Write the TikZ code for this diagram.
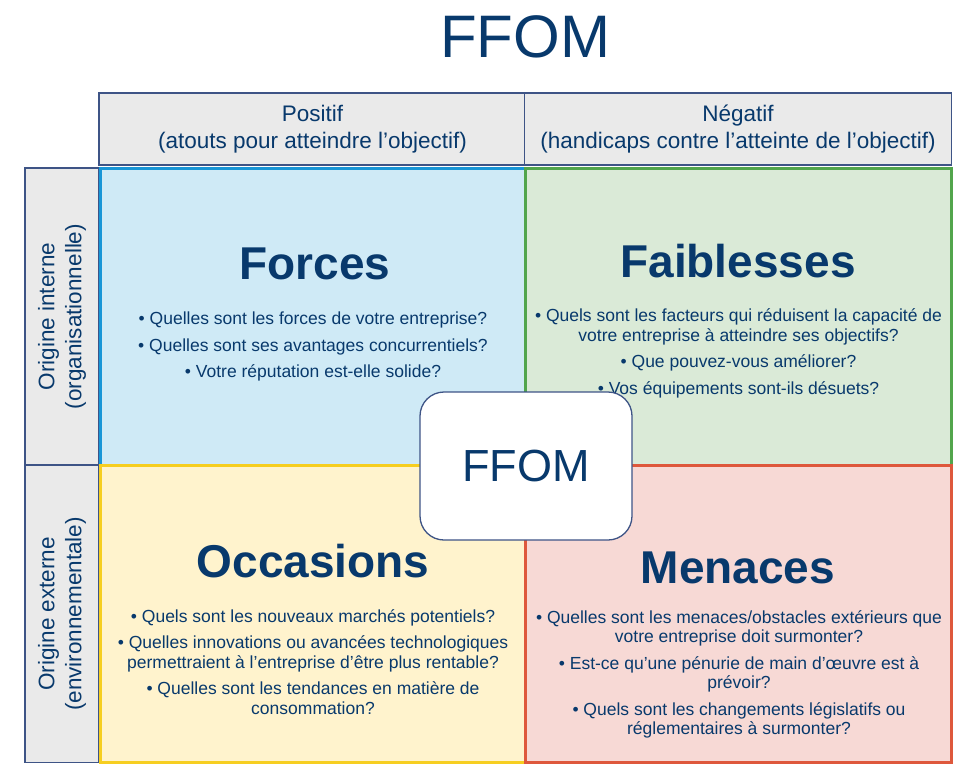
\documentclass[tikz,border=0pt]{standalone}
\usepackage{fontspec}
\setmainfont{Liberation Sans}
\usetikzlibrary{positioning}

\begin{document}
\begin{tikzpicture}[x=1pt,y=-1pt,
  headcell/.style={draw=frameblue,fill=headgray,line width=1.2pt,
    minimum width=427pt,minimum height=72pt,inner sep=0pt,align=center,
    text=navy,font=\fontsize{22.5}{27}\selectfont},
  sidecell/.style={headcell,minimum width=297pt,minimum height=74pt,rotate=90},
  quad/.style={line width=3pt,minimum width=426pt,minimum height=297pt,inner sep=0pt},
  heading/.style={anchor=base,text=navy,font=\fontsize{46}{50}\bfseries\selectfont},
  bullets/.style={anchor=north,inner sep=0pt,align=center,text=navy,
    font=\fontsize{17.5}{19.5}\selectfont}]
\definecolor{navy}{RGB}{8,57,108}
\definecolor{frameblue}{RGB}{62,84,134}
\definecolor{headgray}{RGB}{234,234,234}
\definecolor{forcesfill}{RGB}{207,234,246}
\definecolor{forcesline}{RGB}{24,150,215}
\definecolor{faibfill}{RGB}{218,234,215}
\definecolor{faibline}{RGB}{82,165,76}
\definecolor{occfill}{RGB}{255,243,205}
\definecolor{occline}{RGB}{246,206,32}
\definecolor{menfill}{RGB}{247,217,213}
\definecolor{menline}{RGB}{222,88,60}

\useasboundingbox (0,0) rectangle (973,777);

% Title.
\node[anchor=base,text=navy,font=\fontsize{60}{60}\selectfont] (title) at (525,57) {FFOM};

% Column and row headers.
\node[headcell] (positif) at (312.5,129) {Positif\\(atouts pour atteindre l’objectif)};
\node[headcell] (negatif) at (738,129) {Négatif\\(handicaps contre l’atteinte de l’objectif)};
\node[sidecell] (interne) at (62,316.5) {Origine interne\\(organisationnelle)};
\node[sidecell] (externe) at (62,614) {Origine externe\\(environnementale)};

% The four quadrants.
\node[quad,fill=forcesfill,draw=forcesline] (forces) at (313,316.5) {};
\node[quad,fill=faibfill,draw=faibline] (faib) at (738,316.5) {};
\node[quad,fill=occfill,draw=occline] (occ) at (313,614) {};
\node[quad,fill=menfill,draw=menline] (men) at (738,614) {};

\node[heading] (forcestitle) at (315,279) {Forces};
\node[heading] (faibtitle) at (738,277) {Faiblesses};
\node[heading] (occtitle) at (313,577) {Occasions};
\node[heading] (mentitle) at (738,583) {Menaces};

\node[bullets] (forcestext) at (313,312) {%
  • Quelles sont les forces de votre entreprise?\\[7pt]
  • Quelles sont ses avantages concurrentiels?\\[7pt]
  • Votre réputation est-elle solide?};
\node[bullets] (faibtext) at (738.5,308.5) {%
  • Quels sont les facteurs qui réduisent la capacité de\\
  votre entreprise à atteindre ses objectifs?\\[7pt]
  • Que pouvez-vous améliorer?\\[7pt]
  • Vos équipements sont-ils désuets?};
\node[bullets] (occtext) at (313,609) {%
  • Quels sont les nouveaux marchés potentiels?\\[7pt]
  • Quelles innovations ou avancées technologiques\\
  permettraient à l’entreprise d’être plus rentable?\\[7pt]
  • Quelles sont les tendances en matière de\\
  consommation?};
\node[bullets] (mentext) at (739,610) {%
  • Quelles sont les menaces/obstacles extérieurs que\\
  votre entreprise doit surmonter?\\[7pt]
  • Est-ce qu’une pénurie de main d’œuvre est à\\
  prévoir?\\[7pt]
  • Quels sont les changements législatifs ou\\
  réglementaires à surmonter?};

% Centre box over the crossing.
\node[draw=frameblue,fill=white,line width=1.3pt,rounded corners=24pt,
  minimum width=212pt,minimum height=148pt,text=navy,
  font=\fontsize{45}{45}\selectfont] (centre) at (526,466) {FFOM};
\end{tikzpicture}
\end{document}
